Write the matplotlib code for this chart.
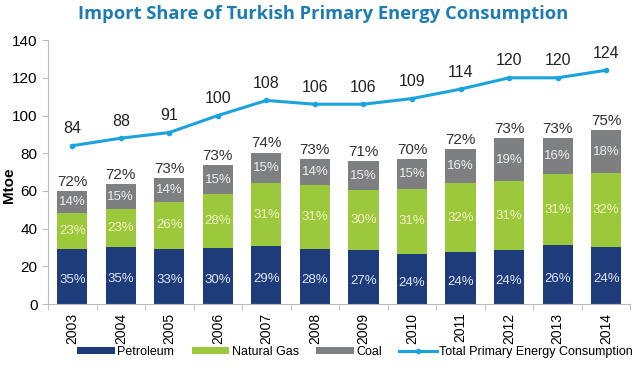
import matplotlib
matplotlib.use('Agg')
import matplotlib.pyplot as plt
import numpy as np

plt.rcParams['font.family'] = ['Liberation Sans', 'DejaVu Sans']

# data (Mtoe)
years = ['2003', '2004', '2005', '2006', '2007', '2008',
         '2009', '2010', '2011', '2012', '2013', '2014']
petroleum = [29.5, 30.3, 29.5, 30.0, 30.9, 29.5, 28.6, 26.8, 27.7, 28.6, 31.2, 30.3]
natural_gas = [18.7, 20.3, 24.7, 28.2, 33.1, 33.5, 31.7, 34.4, 36.3, 36.7, 37.6, 39.0]
coal = [11.8, 12.9, 12.8, 15.4, 16.3, 13.8, 15.6, 15.6, 18.0, 22.6, 19.1, 23.0]
total = [84, 88, 91, 100, 108, 106, 106, 109, 114, 120, 120, 124]

pet_pct = [35, 35, 33, 30, 29, 28, 27, 24, 24, 24, 26, 24]
gas_pct = [23, 23, 26, 28, 31, 31, 30, 31, 32, 31, 31, 32]
coal_pct = [14, 15, 14, 15, 15, 14, 15, 15, 16, 19, 16, 18]
import_pct = [72, 72, 73, 73, 74, 73, 71, 70, 72, 73, 73, 75]

c_pet = '#1f3c7a'
c_gas = '#9cc83b'
c_coal = '#7e7f81'
c_line = '#1aa3dc'

fig = plt.figure(figsize=(6.4, 3.89), dpi=100)
ax = fig.add_axes([0.075, 0.218, 0.91, 0.679])

x = np.arange(len(years))
w = 0.62
pet = np.array(petroleum)
gas = np.array(natural_gas)
cl = np.array(coal)

b1 = ax.bar(x, pet, w, color=c_pet, label='Petroleum')
b2 = ax.bar(x, gas, w, bottom=pet, color=c_gas, label='Natural Gas')
b3 = ax.bar(x, cl, w, bottom=pet + gas, color=c_coal, label='Coal')
ln, = ax.plot(x, total, color=c_line, lw=2.2, marker='o', ms=3,
              label='Total Primary Energy Consumption')

for i in range(len(years)):
    ax.text(x[i], pet[i] / 2 - 2, f'{pet_pct[i]}%', ha='center', va='center',
            color='#dfe6f5', fontsize=9.5)
    ax.text(x[i], pet[i] + gas[i] / 2, f'{gas_pct[i]}%', ha='center', va='center',
            color='#f2f2c4', fontsize=9.5)
    ax.text(x[i], pet[i] + gas[i] + cl[i] / 2, f'{coal_pct[i]}%', ha='center',
            va='center', color='#eeeeee', fontsize=9.5)
    top = pet[i] + gas[i] + cl[i]
    ax.text(x[i], top + 1.2, f'{import_pct[i]}%', ha='center', va='bottom',
            color='#333333', fontsize=11)
    ax.text(x[i], total[i] + 5, str(total[i]), ha='center', va='bottom',
            color='#222222', fontsize=11.5)

ax.set_xlim(-0.5, len(years) - 0.5)
ax.set_ylim(0, 140)
ax.set_yticks(range(0, 141, 20))
ax.set_xticks(x)
ax.set_xticklabels(years, rotation=90, fontsize=10)
ax.set_xticks(np.arange(-0.5, len(years)), minor=True)
ax.tick_params(axis='x', which='major', length=0, pad=6)
ax.tick_params(axis='x', which='minor', length=4, color='#bbbbbb')
ax.tick_params(axis='y', labelsize=11, length=4, color='#bbbbbb')
ax.set_ylabel('Mtoe', fontsize=11, fontweight='bold')
ax.yaxis.set_label_coords(-0.055, 0.45)

for s in ['top', 'right']:
    ax.spines[s].set_visible(False)
ax.spines['left'].set_color('#bbbbbb')
ax.spines['bottom'].set_color('#bbbbbb')

fig.text(0.505, 0.965, 'Import Share of Turkish Primary Energy Consumption',
         ha='center', va='center', fontsize=13.2, fontweight='bold',
         color='#1e7cb0', family=['Open Sans', 'DejaVu Sans'])

fig.legend([b1, b2, b3, ln],
           ['Petroleum', 'Natural Gas', 'Coal', 'Total Primary Energy Consumption'],
           loc='center', bbox_to_anchor=(0.555, 0.095), ncol=4, frameon=False,
           fontsize=9, handlelength=3.0, handleheight=0.5, columnspacing=1.4,
           handletextpad=0.2)

fig.savefig('out.png', dpi=100)
